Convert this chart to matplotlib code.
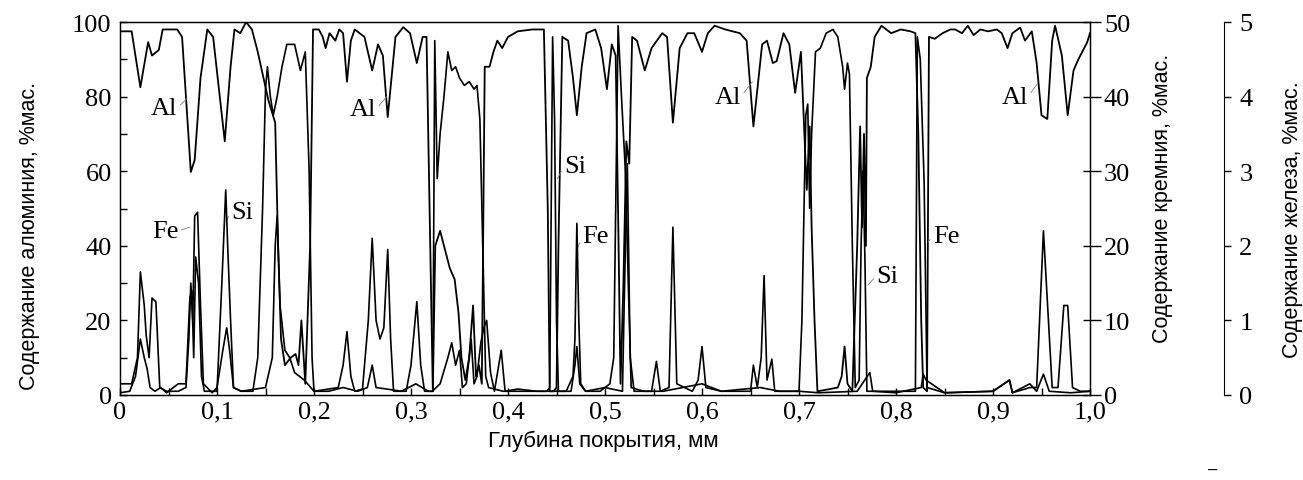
import matplotlib
matplotlib.use('Agg')
import matplotlib.pyplot as plt
import numpy as np

# Al, % (left axis)
al_x = [0.000, 0.012, 0.021, 0.029, 0.033, 0.040, 0.044, 0.059, 0.064, 0.073, 0.077, 0.083, 0.090, 0.096,
        0.108, 0.114, 0.118, 0.124, 0.130, 0.136, 0.142, 0.153, 0.160, 0.163, 0.166, 0.170, 0.176, 0.181,
        0.184, 0.187, 0.191, 0.196, 0.199, 0.205, 0.209, 0.212, 0.216, 0.222, 0.226, 0.230, 0.234, 0.238,
        0.242, 0.252, 0.260, 0.266, 0.271, 0.276, 0.284, 0.292, 0.299, 0.306, 0.312, 0.316, 0.3205, 0.3225,
        0.325, 0.330, 0.334, 0.340, 0.345, 0.349, 0.352, 0.356, 0.360, 0.364, 0.367, 0.370, 0.373, 0.376,
        0.381, 0.385, 0.389, 0.394, 0.400, 0.410, 0.425, 0.437, 0.441, 0.443, 0.447, 0.450, 0.452, 0.456,
        0.462, 0.467, 0.471, 0.476, 0.481, 0.490, 0.496, 0.502, 0.507, 0.511, 0.514, 0.516, 0.519, 0.522,
        0.525, 0.528, 0.533, 0.541, 0.548, 0.559, 0.564, 0.570, 0.577, 0.585, 0.592, 0.600, 0.606, 0.613,
        0.624, 0.639, 0.646, 0.653, 0.662, 0.667, 0.673, 0.677, 0.684, 0.690, 0.696, 0.702, 0.708, 0.711,
        0.713, 0.716, 0.719, 0.730, 0.740, 0.744, 0.747, 0.750, 0.755, 0.760, 0.763, 0.765, 0.767, 0.769,
        0.770, 0.774, 0.778, 0.785, 0.795, 0.805, 0.815, 0.820, 0.823, 0.826, 0.828, 0.832, 0.834, 0.840,
        0.848, 0.856, 0.861, 0.868, 0.874, 0.880, 0.887, 0.895, 0.904, 0.909, 0.915, 0.920, 0.928, 0.933,
        0.940, 0.945, 0.950, 0.956, 0.961, 0.964, 0.971, 0.977, 0.983, 0.988, 0.997, 1.000]
al_y = [97.5, 97.5, 82.5, 94.6, 91, 92.5, 98, 98, 96, 59.8, 63, 85, 98, 96,
        68, 88, 98, 97, 100, 98, 92, 79, 73, 40, 15, 8, 10, 11,
        8, 20, 3, 40, 98, 98, 96, 93, 97, 95, 98, 97, 84, 95,
        98, 96, 87, 94, 91, 74.5, 96, 98.6, 97, 89, 96, 96, 30, 1,
        40, 44, 40, 34, 31, 22, 10, 4, 10, 24, 5, 8, 3, 88,
        88, 92, 95, 93, 96, 97.5, 98, 98, 50, 1, 1, 2, 40, 96,
        95, 85, 75, 88, 97, 98, 93, 82, 94, 91, 40, 3, 30, 68,
        62, 96, 95, 87, 93, 97, 96, 73, 93, 97, 97, 92, 97, 99,
        98, 97, 95, 72, 94, 95, 89, 89.5, 97, 94, 81, 92, 55, 72,
        45, 20, 1, 1.5, 2, 5, 13, 3, 1, 40, 72, 45, 70, 40,
        85, 88, 96, 99, 97, 98, 97.5, 97, 70, 20, 2, 1, 96, 95.5,
        97, 98, 98, 97, 99, 96.5, 98, 97.5, 98, 97, 93, 97, 98.5, 95,
        97.5, 89, 75, 74, 95, 99, 91, 75, 87, 90, 94.5, 97]

# Si, % (right axis)
si_x = [0.000, 0.010, 0.016, 0.021, 0.025, 0.028, 0.031, 0.036, 0.042, 0.048, 0.060, 0.068, 0.072, 0.074,
        0.076, 0.078, 0.081, 0.084, 0.087, 0.100, 0.105, 0.109, 0.111, 0.114, 0.117, 0.125, 0.137, 0.142,
        0.147, 0.150, 0.152, 0.155, 0.158, 0.162, 0.167, 0.172, 0.180, 0.186, 0.191, 0.195, 0.198, 0.200,
        0.215, 0.230, 0.245, 0.255, 0.260, 0.264, 0.275, 0.290, 0.305, 0.318, 0.3225, 0.3245, 0.327, 0.330,
        0.334, 0.338, 0.342, 0.346, 0.350, 0.355, 0.360, 0.365, 0.368, 0.371, 0.374, 0.377, 0.380, 0.395,
        0.420, 0.440, 0.443, 0.446, 0.448, 0.450, 0.452, 0.465, 0.469, 0.471, 0.474, 0.480, 0.495, 0.505,
        0.509, 0.5135, 0.517, 0.521, 0.524, 0.527, 0.540, 0.560, 0.600, 0.620, 0.660, 0.680, 0.700, 0.703,
        0.707, 0.709, 0.711, 0.713, 0.717, 0.722, 0.728, 0.735, 0.740, 0.745, 0.747, 0.750, 0.752, 0.755,
        0.758, 0.762, 0.764, 0.766, 0.768, 0.770, 0.790, 0.810, 0.820, 0.822, 0.825, 0.829, 0.832, 0.850,
        0.900, 0.917, 0.920, 0.938, 0.945, 0.952, 0.958, 0.980, 1.000]
si_y = [0.3, 0.5, 2.5, 7.5, 5, 3.5, 1, 0.5, 1, 0.3, 1.5, 1.5, 13, 14,
        5, 18.5, 15, 2.5, 0.5, 0.5, 15, 27.5, 20, 10, 1, 0.5, 0.5, 5,
        25, 41, 44, 40, 37.5, 40, 44, 47, 47, 43.5, 46, 30, 5, 0.5,
        0.5, 1, 0.5, 1, 4, 1, 0.8, 0.5, 1.5, 0.5, 0.5, 47.5, 29, 35,
        40, 46, 43.5, 44, 42.5, 41.5, 42, 41, 41.5, 37, 20, 2.5, 1, 0.5,
        0.5, 0.5, 1, 48, 37, 10, 0.5, 0.5, 4, 6.5, 1.5, 0.5, 0.5, 1.5,
        5, 49.5, 40, 30, 15, 1, 0.5, 0.5, 1.5, 0.5, 1, 0.5, 0.5, 10,
        37.5, 39, 25, 35, 46, 46.5, 48.5, 49, 48, 44, 41, 44.5, 43, 20,
        1, 2, 20, 30, 18, 0.5, 0.5, 0.5, 0.5, 48, 45, 28.5, 1, 0.3,
        0.5, 2, 0.3, 1.5, 0.5, 2.8, 0.5, 0.3, 0.5]

# Fe, % (third axis)
fe_x = [0.000, 0.012, 0.018, 0.021, 0.025, 0.027, 0.030, 0.033, 0.037, 0.041, 0.048, 0.060, 0.068, 0.071,
        0.073, 0.075, 0.077, 0.080, 0.083, 0.086, 0.095, 0.100, 0.106, 0.110, 0.113, 0.117, 0.125, 0.150,
        0.157, 0.160, 0.162, 0.165, 0.170, 0.175, 0.180, 0.190, 0.200, 0.215, 0.225, 0.230, 0.234, 0.238,
        0.242, 0.250, 0.256, 0.260, 0.264, 0.268, 0.272, 0.276, 0.279, 0.282, 0.295, 0.300, 0.306, 0.310,
        0.314, 0.322, 0.330, 0.338, 0.342, 0.346, 0.350, 0.353, 0.357, 0.362, 0.365, 0.368, 0.372, 0.375,
        0.378, 0.382, 0.386, 0.393, 0.397, 0.410, 0.430, 0.460, 0.467, 0.469, 0.471, 0.473, 0.475, 0.480,
        0.500, 0.518, 0.521, 0.523, 0.526, 0.530, 0.548, 0.553, 0.557, 0.566, 0.570, 0.574, 0.590, 0.596,
        0.600, 0.604, 0.620, 0.650, 0.653, 0.657, 0.661, 0.664, 0.667, 0.672, 0.675, 0.700, 0.720, 0.760,
        0.773, 0.776, 0.800, 0.826, 0.828, 0.831, 0.850, 0.900, 0.917, 0.920, 0.938, 0.945, 0.948, 0.952,
        0.955, 0.961, 0.967, 0.973, 0.977, 0.982, 0.990, 1.000]
fe_y = [0.15, 0.15, 0.5, 1.65, 1.2, 0.8, 0.5, 1.3, 1.25, 0.1, 0.05, 0.05, 0.1, 0.75,
        1.5, 1.0, 2.4, 2.45, 1.2, 0.15, 0.03, 0.1, 0.6, 0.9, 0.6, 0.1, 0.05, 0.1,
        0.5, 2.0, 2.4, 1.2, 0.6, 0.5, 0.3, 0.2, 0.05, 0.08, 0.1, 0.4, 0.85, 0.25,
        0.05, 0.08, 1.0, 2.1, 1.0, 0.75, 0.9, 1.95, 0.75, 0.05, 0.05, 0.4, 1.25, 0.4,
        0.05, 0.05, 0.15, 0.5, 0.7, 0.4, 0.6, 0.1, 0.15, 0.75, 0.15, 0.25, 0.7, 0.9,
        1.0, 0.3, 0.05, 0.6, 0.05, 0.08, 0.05, 0.05, 0.25, 0.75, 2.3, 1.0, 0.15, 0.05,
        0.1, 0.05, 2.0, 3.1, 0.5, 0.05, 0.05, 0.45, 0.05, 0.1, 2.25, 0.15, 0.05, 0.2,
        0.65, 0.1, 0.05, 0.05, 0.4, 0.1, 0.5, 1.6, 0.2, 0.48, 0.05, 0.05, 0.03, 0.05,
        0.3, 0.05, 0.03, 0.1, 0.28, 0.2, 0.03, 0.05, 0.2, 0.03, 0.1, 0.1, 1.0, 2.2,
        1.5, 0.1, 0.1, 1.2, 1.2, 0.1, 0.05, 0.05]

x_ticks = [0, 0.1, 0.2, 0.3, 0.4, 0.5, 0.6, 0.7, 0.8, 0.9, 1.0]
x_labels = ['0', '0,1', '0,2', '0,3', '0,4', '0,5', '0,6', '0,7', '0,8', '0,9', '1,0']

# label text, text position (depth, Al scale), point on curve
labels = [
    ('Al', (0.032, 77), (0.069, 79.5), 'r'),
    ('Fe', (0.033, 44), (0.072, 45), 'r'),
    ('Si', (0.115, 49), (0.110, 47), 'l'),
    ('Al', (0.237, 76.7), (0.275, 80), 'r'),
    ('Si', (0.458, 61.4), (0.451, 58), 'l'),
    ('Fe', (0.477, 42.6), (0.471, 39), 'l'),
    ('Al', (0.613, 80), (0.652, 84), 'r'),
    ('Si', (0.780, 32), (0.771, 29.5), 'l'),
    ('Fe', (0.838, 42.6), (0.833, 41), 'l'),
    ('Al', (0.909, 80), (0.946, 83.5), 'r'),
]

serif = 'Liberation Serif'
sans = 'Liberation Sans'

fig = plt.figure(figsize=(13.03, 4.81), dpi=100)
ax = fig.add_axes([120 / 1303, 85 / 481, 970 / 1303, 373 / 481])
ax_si = ax.twinx()
ax_fe = ax.twinx()

ax.plot(al_x, al_y, color='black', lw=1.3)
ax_si.plot(si_x, si_y, color='black', lw=1.2)
ax_fe.plot(fe_x, fe_y, color='black', lw=1.2)

ax.set_xlim(0, 1.0)
ax.set_ylim(0, 100)
ax_si.set_ylim(0, 50)
ax_fe.set_ylim(0, 5)

ax.set_xticks(x_ticks)
ax.set_xticklabels(x_labels, fontfamily=serif, fontsize=19)
ax.set_xticks(np.arange(0.05, 1.0, 0.1), minor=True)
ax.set_yticks(np.arange(0, 101, 20))
ax.set_yticklabels([str(v) for v in range(0, 101, 20)], fontfamily=serif, fontsize=19)
ax.set_yticks(np.arange(10, 100, 20), minor=True)
ax.tick_params(axis='both', which='both', direction='in', length=5, width=1, pad=6)
ax.tick_params(axis='x', pad=4)
ax.tick_params(axis='y', right=True, which='major')

ax_si.set_yticks(range(0, 51, 10))
ax_si.set_yticklabels([str(v) for v in range(0, 51, 10)], fontfamily=serif, fontsize=19)
ax_si.tick_params(axis='y', direction='out', length=8, width=1, pad=2)

ax_fe.spines['right'].set_position(('axes', (1224 - 120) / 970))
for s in ['top', 'left', 'bottom']:
    ax_fe.spines[s].set_visible(False)
ax_fe.set_yticks(range(0, 6))
ax_fe.set_yticklabels([str(v) for v in range(0, 6)], fontfamily=serif, fontsize=19)
ax_fe.tick_params(axis='y', direction='out', length=5, width=1, pad=6)

for sp in ax.spines.values():
    sp.set_linewidth(1.0)

for txt, xyt, xy, side in labels:
    rel = (1, 0.5) if side == 'r' else (0, 0.5)
    ax.annotate(txt, xy=xy, xytext=xyt, ha='left', va='center',
                fontfamily=serif, fontsize=19,
                arrowprops=dict(arrowstyle='-', color='gray', lw=0.6,
                                shrinkA=0, shrinkB=0, relpos=rel))

fig.text(0.463, 0.083, 'Глубина покрытия, мм', ha='center', va='center',
         fontfamily=sans, fontsize=16)
fig.text(0.023, 0.51, 'Содержание алюминия, %мас.', ha='center', va='center',
         rotation=90, fontfamily=sans, fontsize=15.5)
fig.text(0.8925, 0.588, 'Содержание кремния, %мас.', ha='center', va='center',
         rotation=90, fontfamily=sans, fontsize=15.5)
fig.text(0.992, 0.543, 'Содержание железа, %мас.', ha='center', va='center',
         rotation=90, fontfamily=sans, fontsize=15.5)
fig.text(1213 / 1303, 1 - 470 / 481, '–', ha='center', va='center',
         fontfamily=sans, fontsize=12)

fig.savefig('out.png', dpi=100)
